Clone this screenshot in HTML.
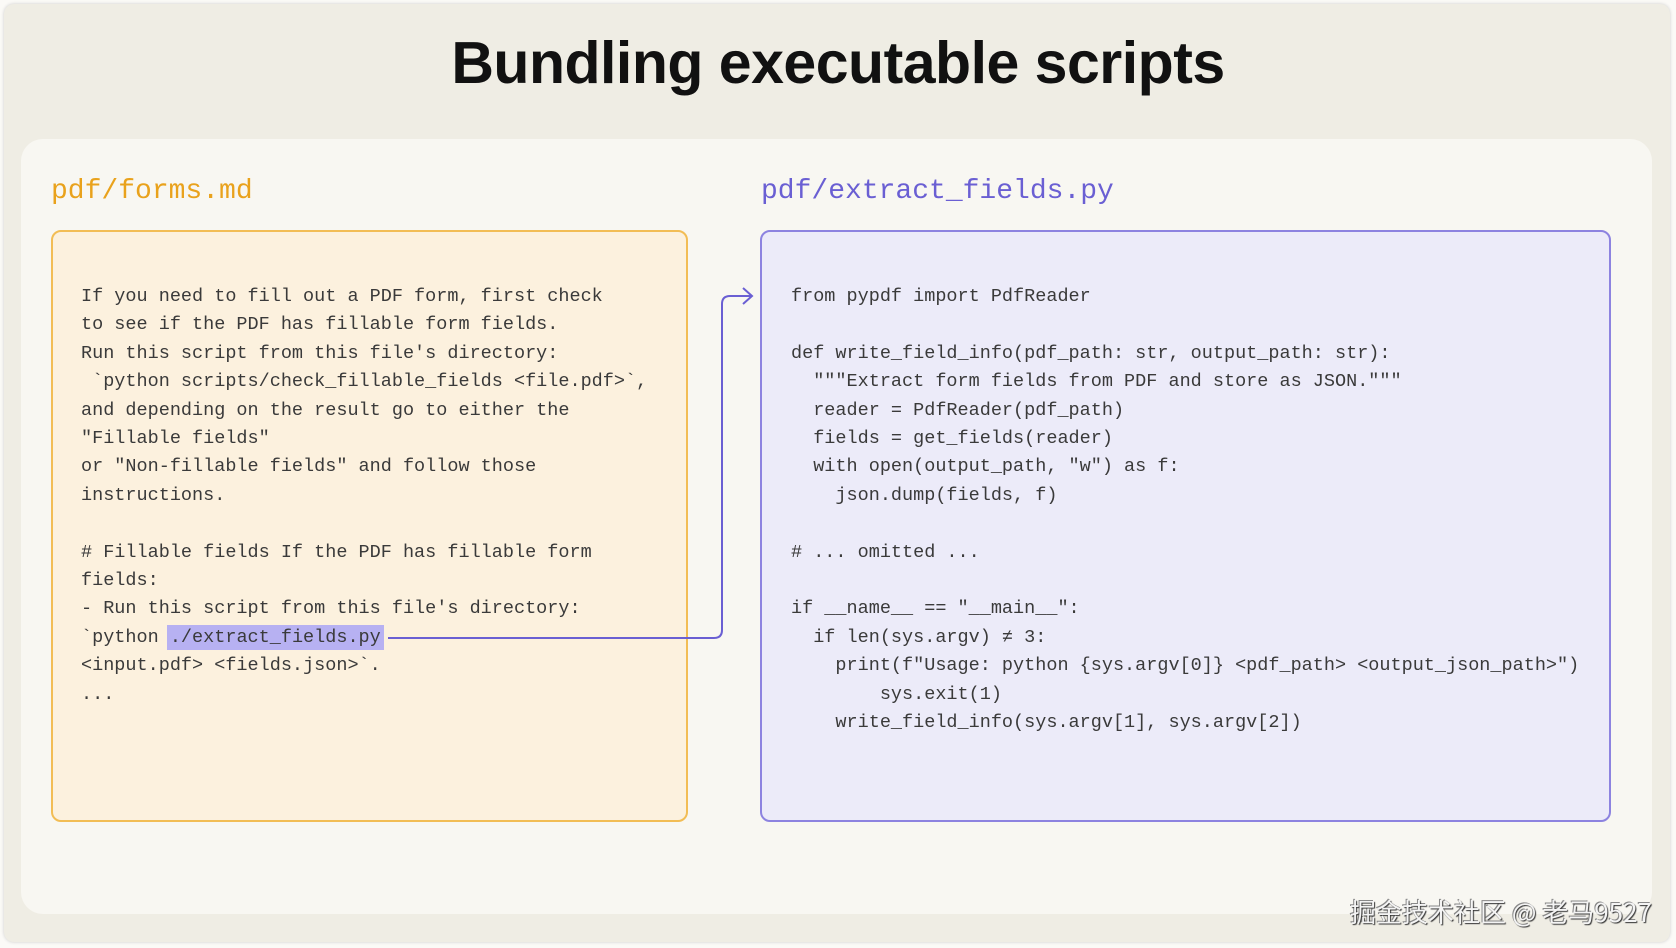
<!DOCTYPE html>
<html><head><meta charset="utf-8"><style>
html,body{margin:0;padding:0}
body{width:1676px;height:948px;background:#fbfaf7;position:relative;overflow:hidden;font-family:"Liberation Mono",monospace}
.outer{position:absolute;left:4px;top:4px;width:1666px;height:938px;background:#efede4;border-radius:10px;box-shadow:0 0 3px #ccc}
.card{position:absolute;left:21px;top:139px;width:1631px;height:775px;background:#f8f7f2;border-radius:22px}
h1{position:absolute;left:0;width:1676px;top:29px;margin:0;text-align:center;font:bold 59px "Liberation Sans",sans-serif;color:#111;letter-spacing:-0.5px}
.lbl{position:absolute;top:176px;font-size:28px}
.box{position:absolute;top:230px;height:592px;border-radius:10px;box-sizing:border-box}
.ln{position:absolute;font-size:18.5px;color:#3a3a3a;white-space:pre;line-height:28.4px}
.hl{background:#b7b1f2;padding:2px 3px;margin-left:-3px}
.wm{position:absolute;left:1350px;top:893px;font:26px "Noto Sans CJK SC",sans-serif;color:#f4f4f4;text-shadow:1px 1px 1px #333,-1px -1px 0 #888;white-space:nowrap}
</style></head><body>
<div class="outer"></div>
<div class="card"></div>
<h1>Bundling executable scripts</h1>
<div class="lbl" style="left:51px;color:#e9a21c">pdf/forms.md</div>
<div class="lbl" style="left:761px;color:#6a5fd3">pdf/extract_fields.py</div>
<div class="box" style="left:51px;width:637px;background:#fcf1de;border:2px solid #f2bd55"></div>
<div class="box" style="left:760px;width:851px;background:#ecebf9;border:2px solid #8d83e0"></div>
<div class="ln" style="left:81px;top:283px">If you need to fill out a PDF form, first check
to see if the PDF has fillable form fields.
Run this script from this file's directory:
 `python scripts/check_fillable_fields &lt;file.pdf&gt;`,
and depending on the result go to either the
"Fillable fields"
or "Non-fillable fields" and follow those
instructions.

# Fillable fields If the PDF has fillable form
fields:
- Run this script from this file's directory:
`python <span class="hl">./extract_fields.py</span>
&lt;input.pdf&gt; &lt;fields.json&gt;`.
...</div>
<div class="ln" style="left:791px;top:283px">from pypdf import PdfReader

def write_field_info(pdf_path: str, output_path: str):
  """Extract form fields from PDF and store as JSON."""
  reader = PdfReader(pdf_path)
  fields = get_fields(reader)
  with open(output_path, "w") as f:
    json.dump(fields, f)

# ... omitted ...

if __name__ == "__main__":
  if len(sys.argv) ≠ 3:
    print(f"Usage: python {sys.argv[0]} &lt;pdf_path&gt; &lt;output_json_path&gt;")
        sys.exit(1)
    write_field_info(sys.argv[1], sys.argv[2])</div>
<svg style="position:absolute;left:0;top:0" width="1676" height="948">
<path d="M388 638 H714 Q722 638 722 630 V304 Q722 296 730 296 H751" fill="none" stroke="#6a5fd3" stroke-width="2"/>
<path d="M743 288 L752 296 L743 304" fill="none" stroke="#6a5fd3" stroke-width="2"/>
</svg>
<div class="wm">掘金技术社区 @ 老马9527</div>
</body></html>
